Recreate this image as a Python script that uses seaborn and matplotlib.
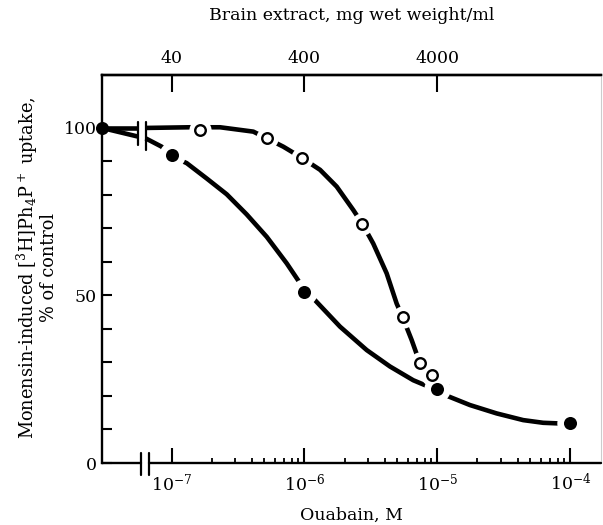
import matplotlib
matplotlib.use('Agg')
import matplotlib.pyplot as plt
import numpy as np
import seaborn as sns
from matplotlib.ticker import FixedLocator, FixedFormatter, NullLocator, LogFormatterMathtext

# ouabain (filled circles); 0 = control, drawn on the y axis
ouabain_conc = [0, 1e-7, 1e-6, 1e-5, 1e-4]
ouabain_pct = [100, 92, 51, 22, 12]

# brain extract (open circles), mg wet weight/ml
brain_mg = [66, 210, 380, 1090, 2190, 2950, 3650]
brain_pct = [99.4, 96.9, 91.1, 71.4, 43.5, 29.8, 26.2]

# hand drawn curves (x as log10 of molar scale)
ouabain_curve_logx = [-7.523, -7.25, -7.195, -7.074, -7.019, -6.886, -6.735, -6.585, -6.435,
                      -6.284, -6.134, -6.034, -6.004, -5.921, -5.733, -5.532, -5.357, -5.182,
                      -5.056, -5.004, -4.944, -4.756, -4.555, -4.355, -4.205, -4.079, -4.004]
ouabain_curve_pct = [100, 97.4, 96.9, 94.4, 91.9, 89.5, 84.9, 80.2, 74.2,
                     67.5, 59.6, 53.7, 51.1, 48.6, 40.7, 33.7, 28.8, 24.7,
                     22.6, 21.8, 20.3, 17.3, 14.8, 12.8, 12.0, 11.8, 12.0]
brain_curve_logx = [-7.523, -7.25, -7.195, -6.861, -6.78, -6.635, -6.385, -6.284, -6.159,
                    -6.021, -5.883, -5.758, -5.633, -5.565, -5.483, -5.382, -5.307, -5.262,
                    -5.194, -5.132, -5.039, -4.92]
brain_curve_pct = [100, 100, 100, 100.2, 100.2, 100.2, 98.9, 96.9, 94.4,
                   91.1, 87.5, 82.5, 75.5, 71.4, 65.5, 56.6, 47.6, 43.5,
                   36.7, 29.8, 26.2, 22.8]

XMIN, XMAX = 10 ** -7.523, 10 ** -3.77
BRAIN_PER_M = 4e8          # 40 mg/ml sits at 1e-7 M
CURVE_BREAK = (-7.25, -7.195)
AXIS_BREAK = (-7.229, -7.173)

sns.set_style('ticks')
plt.rcParams['font.family'] = ['DejaVu Serif']
plt.rcParams['mathtext.fontset'] = 'dejavuserif'
for k in ('text.color', 'axes.labelcolor', 'xtick.color', 'ytick.color', 'axes.edgecolor'):
    plt.rcParams[k] = 'black'

fig = plt.figure(figsize=(6.03, 5.25), dpi=100)
ax = fig.add_axes([102 / 603, 62 / 525, 499 / 603, 388 / 525])
ax.set_xscale('log')

# curves, split at the break
for lx, py in [(ouabain_curve_logx, ouabain_curve_pct), (brain_curve_logx, brain_curve_pct)]:
    lx = np.array(lx)
    py = np.array(py)
    left = lx <= CURVE_BREAK[0]
    right = lx >= CURVE_BREAK[1]
    for m in (left, right):
        sns.lineplot(x=10 ** lx[m], y=py[m], ax=ax, color='black', lw=3.3,
                     sort=False, estimator=None, solid_capstyle='butt',
                     solid_joinstyle='round', zorder=2)

# break marks on the curves
for b, ylo in zip(CURVE_BREAK, (95.0, 93.4)):
    ax.plot([10 ** b, 10 ** b], [101.8, ylo], color='black', lw=1.6, zorder=5)

ox = np.array([XMIN if c == 0 else c for c in ouabain_conc])
bx = np.array(brain_mg) / BRAIN_PER_M

# white halos make the gaps in the curves round each point
ax.scatter(ox[1:], ouabain_pct[1:], s=19 ** 2, color='white', zorder=3, linewidths=0)
ax.scatter(bx, brain_pct, s=16 ** 2, color='white', zorder=3, linewidths=0)

sns.scatterplot(x=ox, y=ouabain_pct, ax=ax, s=9.4 ** 2, color='black', edgecolor='black',
                linewidth=0, zorder=4, clip_on=False)
sns.scatterplot(x=bx, y=brain_pct, ax=ax, s=7.6 ** 2, facecolor='white', edgecolor='black',
                linewidth=1.7, zorder=4)

ax.set_xlim(XMIN, XMAX)
ax.set_ylim(0, 115.8)

# x axis with a break
ax.spines['bottom'].set_visible(False)
ax.plot([XMIN, 10 ** AXIS_BREAK[0]], [0, 0], color='black', lw=1.7, clip_on=False, zorder=5)
ax.plot([10 ** AXIS_BREAK[1], XMAX], [0, 0], color='black', lw=1.7, clip_on=False, zorder=5)
for b in AXIS_BREAK:
    ax.plot([10 ** b, 10 ** b], [3.0, -3.6], color='black', lw=1.6, clip_on=False, zorder=5)

ax.spines['left'].set_linewidth(1.7)
ax.spines['top'].set_linewidth(1.7)
ax.spines['right'].set_linewidth(0.8)
ax.spines['right'].set_color('#cccccc')

ax.xaxis.set_major_locator(FixedLocator([1e-7, 1e-6, 1e-5, 1e-4]))
ax.xaxis.set_major_formatter(LogFormatterMathtext())
ax.xaxis.set_minor_locator(FixedLocator([m * 10.0 ** e for e in (-7, -6, -5) for m in range(2, 10)]))
ax.tick_params(axis='x', which='major', direction='in', length=10.5, width=1.5,
               labelsize=12.5, pad=7, top=False)
ax.tick_params(axis='x', which='minor', direction='in', length=3.8, width=1.3, top=False)

yt = list(range(0, 101, 10))
ax.yaxis.set_major_locator(FixedLocator(yt))
ax.yaxis.set_major_formatter(FixedFormatter([str(v) if v % 50 == 0 else '' for v in yt]))
ax.tick_params(axis='y', which='major', direction='in', length=7.5, width=1.5,
               labelsize=12.5, pad=4, right=False)
ax.yaxis.set_minor_locator(NullLocator())

ax.set_xlabel('Ouabain, M', fontsize=12.5, labelpad=9)
ax.set_ylabel('')
fig.text(36 / 603, 1 - 268 / 525,
         'Monensin-induced [$^3$H]Ph$_4$P$^+$ uptake,\n% of control',
         rotation=90, ha='center', va='center', multialignment='center',
         fontsize=12.8, linespacing=1.0)

# top axis: brain extract
sec = ax.secondary_xaxis('top', functions=(lambda x: x * BRAIN_PER_M, lambda b: b / BRAIN_PER_M))
sec.set_xticks([40, 400, 4000])
sec.set_xticklabels(['40', '400', '4000'])
sec.xaxis.set_minor_locator(NullLocator())
sec.tick_params(axis='x', which='major', direction='in', length=12, width=1.5,
                labelsize=12.5, pad=6)
sec.spines['top'].set_linewidth(1.7)
sec.set_xlabel('Brain extract, mg wet weight/ml', fontsize=12.5, labelpad=21)

fig.savefig('out.png', dpi=100)
